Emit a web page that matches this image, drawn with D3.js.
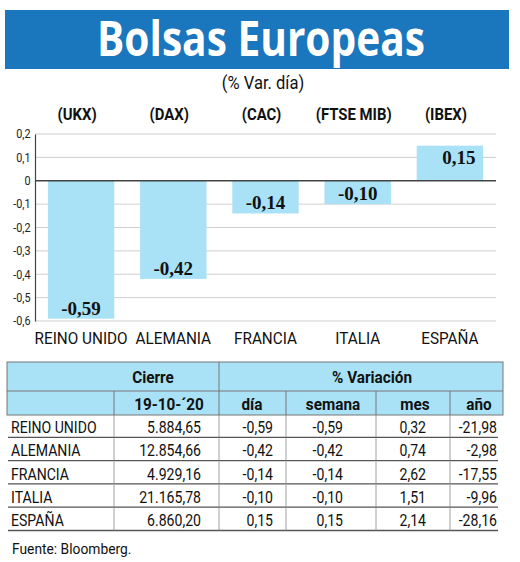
<!DOCTYPE html>
<html>
<head>
<meta charset="utf-8">
<script src="https://cdn.jsdelivr.net/npm/d3@7"></script>
<style>
  body { margin: 0; background: #fff; }
  svg { display: block; }
</style>
</head>
<body>
<div id="chart"></div>
<script>
// datos del gráfico
const categorias = ['REINO UNIDO', 'ALEMANIA', 'FRANCIA', 'ITALIA', 'ESPAÑA'];
const indices = ['(UKX)', '(DAX)', '(CAC)', '(FTSE MIB)', '(IBEX)'];
const varDia = [-0.59, -0.42, -0.14, -0.10, 0.15];
const yTicks = [0.2, 0.1, 0, -0.1, -0.2, -0.3, -0.4, -0.5, -0.6];

// datos de la tabla
const cierre = [5884.65, 12854.66, 4929.16, 21165.78, 6860.20];
const varSemana = [-0.59, -0.42, -0.14, -0.10, 0.15];
const varMes = [0.32, 0.74, 2.62, 1.51, 2.14];
const varAnio = [-21.98, -2.98, -17.55, -9.96, -28.16];
const fechaCierre = '19-10-´20';

const W = 520, H = 562;
const azul = '#1a76bd';
const celeste = '#a9e1f6';
const narrow = "Roboto, 'Liberation Sans', sans-serif";

const es = d3.formatLocale({decimal: ',', thousands: '.', grouping: [3], currency: ['', '€'], minus: '-'});
const f2 = es.format(',.2f');
const fTick = es.format('.1f');

// estrecha el texto horizontalmente (la fuente original es condensada)
function cond(sel, sx) {
    sel.each(function() {
        const t = d3.select(this);
        const tx = +t.attr('x') || 0, ty = +t.attr('y') || 0;
        t.attr('x', 0).attr('y', 0)
         .attr('transform', 'translate(' + tx + ',' + ty + ') scale(' + sx + ',1)');
    });
}

const svg = d3.select('#chart').append('svg')
    .attr('width', W)
    .attr('height', H);

// cabecera
svg.append('rect')
    .attr('x', 5).attr('y', 10)
    .attr('width', 504).attr('height', 59)
    .attr('fill', azul);

svg.append('text')
    .attr('x', 261).attr('y', 56)
    .attr('text-anchor', 'middle')
    .attr('fill', '#fff')
    .attr('font-family', "'Open Sans', sans-serif")
    .attr('font-weight', 'bold')
    .attr('font-size', 48)
    .attr('textLength', 328)
    .attr('lengthAdjust', 'spacingAndGlyphs')
    .text('Bolsas Europeas');

svg.append('text')
    .attr('x', 263).attr('y', 89)
    .attr('text-anchor', 'middle')
    .attr('font-family', narrow)
    .attr('font-size', 18)
    .attr('fill', '#111')
    .text('(% Var. día)')
    .call(cond, 0.92);

// escalas
let x = d3.scaleBand()
    .domain(categorias)
    .range([35, 496])
    .paddingInner(0.28)
    .paddingOuter(0.14);

let y = d3.scaleLinear()
    .domain([-0.6, 0.2])
    .range([321, 134]);

// rejilla
svg.append('g')
    .selectAll('line')
    .data(yTicks.filter(d => d !== 0))
    .enter()
    .append('line')
    .attr('x1', 35).attr('x2', 496)
    .attr('y1', d => y(d)).attr('y2', d => y(d))
    .attr('stroke', '#cfcfcf')
    .attr('stroke-width', 1);

// eje y
let yAxis = d3.axisLeft(y)
    .tickValues(yTicks)
    .tickSize(0)
    .tickPadding(5)
    .tickFormat(d => d === 0 ? '0' : fTick(d));

let gy = svg.append('g')
    .attr('transform', 'translate(35,0)')
    .call(yAxis);
gy.select('.domain').attr('stroke', '#444').attr('stroke-width', 1.2);
gy.selectAll('text')
    .attr('font-family', narrow)
    .attr('font-size', 12)
    .attr('fill', '#222')
    .attr('transform', 'scale(0.9,1)');

// barras
svg.append('g')
    .selectAll('rect')
    .data(varDia)
    .enter()
    .append('rect')
    .attr('x', (d, i) => x(categorias[i]))
    .attr('width', x.bandwidth())
    .attr('y', d => y(Math.max(0, d)))
    .attr('height', d => Math.abs(y(d) - y(0)))
    .attr('fill', celeste);

// línea de cero
svg.append('line')
    .attr('x1', 35).attr('x2', 496)
    .attr('y1', y(0)).attr('y2', y(0))
    .attr('stroke', '#444')
    .attr('stroke-width', 1.6);

// etiquetas de valor
svg.append('g')
    .selectAll('text')
    .data(varDia)
    .enter()
    .append('text')
    .attr('x', (d, i) => x(categorias[i]) + x.bandwidth() / 2 + (d > 0 ? 9 : 0))
    .attr('y', d => d < 0 ? y(d) - 4 : y(d) + 18)
    .attr('text-anchor', 'middle')
    .attr('font-family', "'Liberation Serif', 'DejaVu Serif', serif")
    .attr('font-weight', 'bold')
    .attr('font-size', 19)
    .attr('fill', '#111')
    .text(d => f2(d));

// índices
svg.append('g')
    .selectAll('text')
    .data(indices)
    .enter()
    .append('text')
    .attr('x', (d, i) => x(categorias[i]) + x.bandwidth() / 2 - 4)
    .attr('y', 120)
    .attr('text-anchor', 'middle')
    .attr('font-family', narrow)
    .attr('font-weight', 'bold')
    .attr('font-size', 16)
    .attr('fill', '#111')
    .text(d => d)
    .call(cond, 0.93);

// categorías
svg.append('g')
    .selectAll('text')
    .data(categorias)
    .enter()
    .append('text')
    .attr('x', d => x(d) + x.bandwidth() / 2)
    .attr('y', 344)
    .attr('text-anchor', 'middle')
    .attr('font-family', narrow)
    .attr('font-size', 17)
    .attr('fill', '#111')
    .text(d => d)
    .call(cond, 0.9);

// tabla
const colEdges = [7, 114, 219, 286, 376, 450, 503];
const head1 = 362, head2 = 391, head3 = 415;
const rowH = 23.3;

let tabla = svg.append('g');

tabla.append('rect')
    .attr('x', colEdges[0]).attr('y', head1)
    .attr('width', colEdges[6] - colEdges[0]).attr('height', head3 - head1)
    .attr('fill', celeste)
    .attr('stroke', '#777')
    .attr('stroke-width', 1);

tabla.append('line')
    .attr('x1', colEdges[0]).attr('x2', colEdges[6])
    .attr('y1', head2).attr('y2', head2)
    .attr('stroke', '#777');

tabla.append('line')
    .attr('x1', colEdges[2]).attr('x2', colEdges[2])
    .attr('y1', head1).attr('y2', head3)
    .attr('stroke', '#777');

[1, 3, 4, 5].forEach(c => {
    tabla.append('line')
        .attr('x1', colEdges[c]).attr('x2', colEdges[c])
        .attr('y1', head2).attr('y2', head3)
        .attr('stroke', '#777');
});

const headStyle = sel => sel
    .attr('font-family', narrow)
    .attr('font-weight', 'bold')
    .attr('font-size', 17)
    .attr('fill', '#111')
    .attr('text-anchor', 'middle');

tabla.append('text').attr('x', 153).attr('y', head1 + 21).call(headStyle).text('Cierre').call(cond, 0.9);
tabla.append('text').attr('x', 372).attr('y', head1 + 21).call(headStyle).text('% Variación').call(cond, 0.9);

const subHead = [fechaCierre, 'día', 'semana', 'mes', 'año'];
const subX = [169, 252, 333, 415, 479];
tabla.selectAll('.sub')
    .data(subHead)
    .enter()
    .append('text')
    .attr('class', 'sub')
    .attr('x', (d, i) => subX[i])
    .attr('y', head2 + 19)
    .call(headStyle)
    .text(d => d)
    .call(cond, 0.9);

const filas = categorias.map((c, i) => [c, cierre[i], varDia[i], varSemana[i], varMes[i], varAnio[i]]);
const rightX = [201, 273, 343, 426, 497];

filas.forEach((fila, r) => {
    const yBase = head3 + r * rowH;
    tabla.append('text')
        .attr('x', 11)
        .attr('y', yBase + 18)
        .attr('font-family', narrow)
        .attr('font-size', 16)
        .attr('fill', '#111')
        .text(fila[0])
        .call(cond, 0.88);
    fila.slice(1).forEach((v, j) => {
        tabla.append('text')
            .attr('x', rightX[j])
            .attr('y', yBase + 18)
            .attr('text-anchor', 'end')
            .attr('font-family', narrow)
            .attr('font-size', 16)
            .attr('fill', '#111')
            .text(f2(v))
            .call(cond, 0.88);
    });
    tabla.append('line')
        .attr('x1', 8).attr('x2', 498)
        .attr('y1', yBase + rowH - 1).attr('y2', yBase + rowH - 1)
        .attr('stroke', '#555')
        .attr('stroke-width', 1.3);
    [1, 2, 3, 4, 5].forEach(c => {
        tabla.append('line')
            .attr('x1', colEdges[c]).attr('x2', colEdges[c])
            .attr('y1', yBase).attr('y2', yBase + rowH - 1)
            .attr('stroke', '#888')
            .attr('stroke-width', 0.8);
    });
});

svg.append('text')
    .attr('x', 12).attr('y', 554)
    .attr('font-family', narrow)
    .attr('font-size', 15)
    .attr('fill', '#111')
    .text('Fuente: Bloomberg.')
    .call(cond, 0.92);
</script>
</body>
</html>
